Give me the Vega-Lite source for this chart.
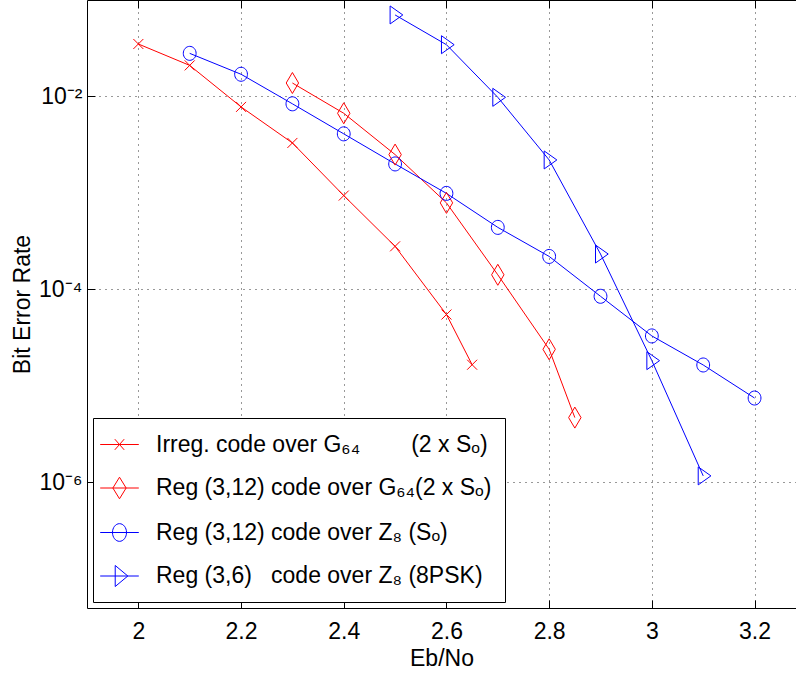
{
  "$schema": "https://vega.github.io/schema/vega-lite/v6.json",
  "autosize": "none",
  "width": 709,
  "height": 608,
  "padding": {"left": 87, "top": 0, "right": 0, "bottom": 78},
  "background": "white",
  "config": {
    "view": {"stroke": null},
    "font": "Liberation Sans",
    "axis": {
      "labelFont": "Liberation Sans",
      "titleFont": "Liberation Sans",
      "labelFontSize": 23,
      "titleFontSize": 23,
      "titleFontWeight": "normal",
      "labelColor": "black",
      "titleColor": "black",
      "domainColor": "black",
      "tickColor": "black",
      "domainWidth": 1,
      "tickWidth": 1,
      "gridColor": "#333333",
      "gridDash": [1, 5],
      "gridOpacity": 1,
      "gridWidth": 1
    },
    "legend": {"symbolOpacity": 1}
  },
  "data": {
    "values": [
      {"s": "a", "x": 2.0, "ber": 0.035},
      {"s": "a", "x": 2.1, "ber": 0.021},
      {"s": "a", "x": 2.2, "ber": 0.0078},
      {"s": "a", "x": 2.3, "ber": 0.0033},
      {"s": "a", "x": 2.4, "ber": 0.00094},
      {"s": "a", "x": 2.5, "ber": 0.00028},
      {"s": "a", "x": 2.6, "ber": 0.000055},
      {"s": "a", "x": 2.65, "ber": 0.0000166},
      {"s": "b", "x": 2.3, "ber": 0.0138},
      {"s": "b", "x": 2.4, "ber": 0.0067},
      {"s": "b", "x": 2.5, "ber": 0.0025},
      {"s": "b", "x": 2.6, "ber": 0.00079},
      {"s": "b", "x": 2.7, "ber": 0.000142},
      {"s": "b", "x": 2.8, "ber": 0.000024},
      {"s": "b", "x": 2.85, "ber": 0.0000047},
      {"s": "c", "x": 2.1, "ber": 0.028},
      {"s": "c", "x": 2.2, "ber": 0.017},
      {"s": "c", "x": 2.3, "ber": 0.0084},
      {"s": "c", "x": 2.4, "ber": 0.0041},
      {"s": "c", "x": 2.5, "ber": 0.002},
      {"s": "c", "x": 2.6, "ber": 0.00099},
      {"s": "c", "x": 2.7, "ber": 0.00044},
      {"s": "c", "x": 2.8, "ber": 0.00022},
      {"s": "c", "x": 2.9, "ber": 0.000085},
      {"s": "c", "x": 3.0, "ber": 0.000033},
      {"s": "c", "x": 3.1, "ber": 0.0000165},
      {"s": "c", "x": 3.2, "ber": 0.0000075},
      {"s": "d", "x": 2.5, "ber": 0.07},
      {"s": "d", "x": 2.6, "ber": 0.0344},
      {"s": "d", "x": 2.7, "ber": 0.0098},
      {"s": "d", "x": 2.8, "ber": 0.0022},
      {"s": "d", "x": 2.9, "ber": 0.000233},
      {"s": "d", "x": 3.0, "ber": 0.0000183},
      {"s": "d", "x": 3.1, "ber": 0.00000117}
    ]
  },
  "encoding": {
    "y": {
      "field": "ber",
      "type": "quantitative",
      "scale": {"type": "log", "domain": [5e-8, 0.1], "nice": false},
      "axis": {
        "title": "Bit Error Rate",
        "values": [0.01, 0.0001, 0.000001],
        "labelExpr": "'10' + (datum.value < 1e-5 ? '⁻⁶' : datum.value < 1e-3 ? '⁻⁴' : '⁻²')",
        "tickSize": -8,
        "labelPadding": 13,
        "titlePadding": 4,
        "grid": true
      }
    }
  },
  "resolve": {"scale": {"shape": "independent", "stroke": "independent"}, "axis": {"x": "independent"}},
  "layer": [
    {
      "mark": {"type": "line", "strokeWidth": 1},
      "encoding": {
        "x": {
          "field": "x", "type": "quantitative",
          "scale": {"domain": [1.9, 3.2807], "nice": false, "zero": false},
          "axis": {"orient": "top", "labels": false, "title": null, "grid": false, "tickSize": -8, "values": [2, 2.2, 2.4, 2.6, 2.8, 3.0, 3.2]}
        },
        "detail": {"field": "s"},
        "stroke": {
          "field": "s", "type": "nominal",
          "scale": {"domain": ["a", "b", "c", "d"], "range": ["#ff0000", "#ff0000", "#0000ff", "#0000ff"]},
          "legend": null
        }
      }
    },
    {
      "mark": {"type": "point", "size": 400, "strokeWidth": 1, "filled": false, "opacity": 1},
      "encoding": {
        "x": {
          "field": "x", "type": "quantitative",
          "scale": {"domain": [1.9, 3.2807], "nice": false, "zero": false},
          "axis": {"orient": "bottom", "title": "Eb/No", "grid": true, "tickSize": -8, "labelPadding": 20, "titlePadding": 4, "values": [2, 2.2, 2.4, 2.6, 2.8, 3.0, 3.2], "labelExpr": "datum.value == 3 ? '3' : format(datum.value, '.1~f')"}
        },
        "stroke": {
          "field": "s", "type": "nominal",
          "scale": {"domain": ["a", "b", "c", "d"], "range": ["#ff0000", "#ff0000", "#0000ff", "#0000ff"]},
          "legend": null
        },
        "shape": {
          "field": "s", "type": "nominal",
          "scale": {"domain": ["a", "b", "c", "d"], "range": [
            "M-0.5,-0.5L0.5,0.5M-0.5,0.5L0.5,-0.5",
            "M0,-1.05L0.62,0L0,1.05L-0.62,0Z",
            "M-0.64,0A0.64,0.7,0,1,0,0.64,0A0.64,0.7,0,1,0,-0.64,0Z",
            "M-0.5,-0.9L0.77,0L-0.5,0.9Z"
          ]},
          "legend": null
        }
      }
    },
    {
      "mark": {"type": "point", "size": 10, "strokeWidth": 1, "filled": false, "opacity": 0},
      "encoding": {
        "x": {"field": "x", "type": "quantitative", "scale": {"domain": [1.9, 3.2807], "nice": false, "zero": false}, "axis": null},
        "stroke": {
          "field": "s", "type": "nominal",
          "scale": {"domain": ["a", "b", "c", "d"], "range": ["#ff0000", "#ff0000", "#0000ff", "#0000ff"]},
          "legend": {
            "orient": "none", "legendX": 6, "legendY": 418, "title": null,
            "padding": 13, "strokeColor": "black", "fillColor": "white", "cornerRadius": 0,
            "symbolSize": 676, "symbolStrokeWidth": 1, "symbolOpacity": 1, "symbolFillColor": "transparent",
            "labelFont": "Liberation Sans", "labelFontSize": 23, "labelColor": "black", "labelLimit": 500, "labelOffset": 23,
            "rowPadding": 17.5,
            "labelExpr": "datum.value == 'a' ? 'Irreg. code over G₆₄\u00a0\u00a0\u00a0\u00a0\u00a0\u00a0\u00a0\u00a0(2 x Sₒ)' : datum.value == 'b' ? 'Reg (3,12) code over G₆₄(2 x Sₒ)' : datum.value == 'c' ? 'Reg (3,12) code over Z₈ (Sₒ)' : 'Reg (3,6)\u00a0\u00a0\u00a0code over Z₈ (8PSK)'"
          }
        },
        "shape": {
          "field": "s", "type": "nominal",
          "scale": {"domain": ["a", "b", "c", "d"], "range": [
            "M-1.485,0H1.485M-0.36,-0.41L0.36,0.41M-0.36,0.41L0.36,-0.41",
            "M-1.485,0H1.485M0,-0.83L0.51,0L0,0.83L-0.51,0Z",
            "M-1.485,0H1.485M-0.54,0A0.54,0.68,0,1,0,0.54,0A0.54,0.68,0,1,0,-0.54,0Z",
            "M-1.485,0H1.485M-0.33,-0.81L0.64,0L-0.33,0.81Z"
          ]},
          "legend": {
            "orient": "none", "legendX": 6, "legendY": 418, "title": null,
            "padding": 13, "strokeColor": "black", "fillColor": "white", "cornerRadius": 0,
            "symbolSize": 676, "symbolStrokeWidth": 1, "symbolOpacity": 1, "symbolFillColor": "transparent",
            "labelFont": "Liberation Sans", "labelFontSize": 23, "labelColor": "black", "labelLimit": 500, "labelOffset": 23,
            "rowPadding": 17.5,
            "labelExpr": "datum.value == 'a' ? 'Irreg. code over G₆₄\u00a0\u00a0\u00a0\u00a0\u00a0\u00a0\u00a0\u00a0(2 x Sₒ)' : datum.value == 'b' ? 'Reg (3,12) code over G₆₄(2 x Sₒ)' : datum.value == 'c' ? 'Reg (3,12) code over Z₈ (Sₒ)' : 'Reg (3,6)\u00a0\u00a0\u00a0code over Z₈ (8PSK)'"
          }
        }
      }
    },
    {
      "data": {"values": [{"note": "(50 BP iterations)"}]},
      "mark": {"type": "text", "font": "Liberation Sans", "fontSize": 23, "align": "center", "baseline": "middle", "color": "black"},
      "encoding": {
        "x": {"datum": 2.294, "type": "quantitative", "scale": {"domain": [1.9, 3.2807], "nice": false, "zero": false}, "axis": null},
        "y": {"datum": 0.00001, "type": "quantitative"},
        "text": {"field": "note"}
      }
    }
  ]
}
